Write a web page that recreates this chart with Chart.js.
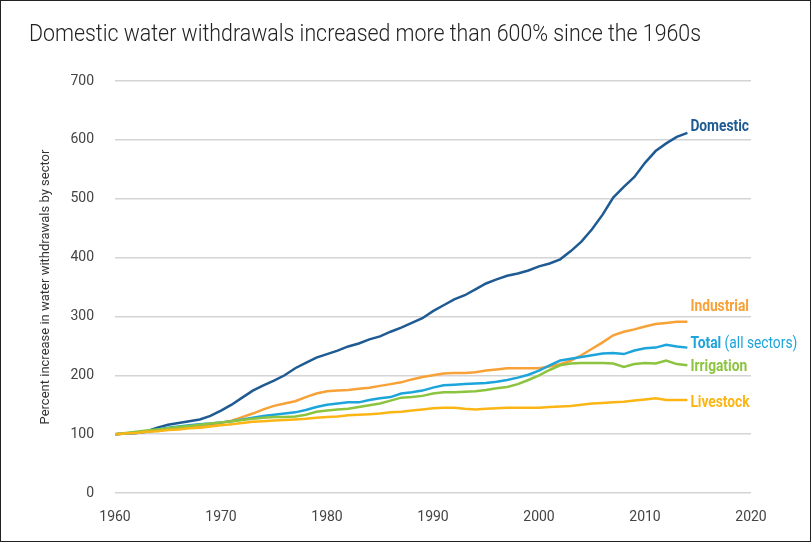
<!DOCTYPE html>
<html>
<head>
<meta charset="utf-8">
<script src="https://cdn.jsdelivr.net/npm/chart.js@4.4.1/dist/chart.umd.min.js"></script>
<style>
  html, body { margin: 0; padding: 0; background: #fff; }
  #frame { width: 811px; height: 542px; box-sizing: border-box; border: 1px solid #222; position: relative; }
  #chart { position: absolute; left: 0; top: 0; }
</style>
</head>
<body>
<div id="frame"><canvas id="chart" width="811" height="542"></canvas></div>
<script>
// Chart data (percent of 1960 level, 1960 = 100)
const years = [1960,1961,1962,1963,1964,1965,1966,1967,1968,1969,
  1970,1971,1972,1973,1974,1975,1976,1977,1978,1979,
  1980,1981,1982,1983,1984,1985,1986,1987,1988,1989,
  1990,1991,1992,1993,1994,1995,1996,1997,1998,1999,
  2000,2001,2002,2003,2004,2005,2006,2007,2008,2009,
  2010,2011,2012,2013,2014];

const domestic = [100,101,102,105,111,116,119,122,125,131,
  140,150,162,174,183,191,200,212,221,230,
  236,242,249,254,261,266,274,281,289,297,
  309,319,329,336,346,356,363,369,373,378,
  385,390,397,411,427,448,473,502,520,537,
  561,581,594,605,612];

const industrial = [100,101,103,104,106,108,110,112,114,116,
  119,123,129,135,142,148,152,156,163,169,
  173,174,175,177,179,182,185,188,193,197,
  200,203,204,204,205,208,210,212,212,212,
  212,215,219,225,234,245,256,268,274,278,
  283,287,289,291,291];

const total = [100,101,102,104,108,111,113,115,117,118,
  120,122,125,128,131,133,135,137,141,146,
  150,152,154,154,158,161,163,169,171,174,
  179,183,184,185,186,187,189,192,196,201,
  208,217,225,228,231,234,237,238,236,242,
  246,247,252,249,247];

const irrigation = [100,102,104,106,108,110,112,114,116,118,
  120,122,124,126,128,129,129,130,133,138,
  140,142,143,146,149,152,157,162,163,165,
  169,171,171,172,173,175,178,180,185,192,
  200,209,217,220,221,221,221,220,214,219,
  221,220,225,219,217];

const livestock = [100,101,102,104,105,107,108,110,111,113,
  115,117,119,121,122,123,124,125,126,128,
  129,130,132,133,134,135,137,138,140,142,
  144,145,145,143,142,143,144,145,145,145,
  145,146,147,148,150,152,153,154,155,157,
  159,161,158,158,158];

const yTicks = [0, 100, 200, 300, 400, 500, 600, 700];
const xTicks = [1960, 1970, 1980, 1990, 2000, 2010, 2020];

const titleText = 'Domestic water withdrawals increased more than 600% since the 1960s';
const yTitle = 'Percent increase in water withdrawals by sector';

const FONT = "'Roboto', sans-serif";

function series(values) {
  return values.map((v, i) => ({ x: years[i], y: v }));
}

// line end labels: text parts, colour, vertical nudge
const endLabels = [
  { ds: 4, parts: [['bold', 'Domestic']], color: '#1f5b92', dy: -6 },
  { ds: 3, parts: [['bold', 'Industrial']], color: '#f7a136', dy: -15 },
  { ds: 2, parts: [['bold', 'Total'], ['normal', ' (all sectors)']], color: '#1da5db', dy: -4 },
  { ds: 1, parts: [['bold', 'Irrigation']], color: '#8cc43f', dy: 2 },
  { ds: 0, parts: [['bold', 'Livestock']], color: '#fbb616', dy: 3 }
];

const labelPlugin = {
  id: 'labels',
  afterDraw(chart) {
    const ctx = chart.ctx;
    const xs = chart.scales.x, ys = chart.scales.y;

    // title, squeezed to the width of the original condensed face
    ctx.save();
    ctx.font = "300 23px Roboto";
    ctx.fillStyle = '#222';
    ctx.textBaseline = 'alphabetic';
    const w = ctx.measureText(titleText).width;
    ctx.translate(28, 40);
    ctx.scale(672 / w, 1);
    ctx.fillText(titleText, 0, 0);
    ctx.restore();

    // labels at the end of each line (narrowed a bit like the original)
    endLabels.forEach((lab) => {
      const data = chart.data.datasets[lab.ds].data;
      const last = data[data.length - 1];
      const x0 = xs.getPixelForValue(last.x) + 3;
      const y = ys.getPixelForValue(last.y) + lab.dy;
      ctx.save();
      ctx.textBaseline = 'middle';
      ctx.fillStyle = lab.color;
      ctx.translate(x0, y);
      ctx.scale(0.86, 1);
      let x = 0;
      lab.parts.forEach(([weight, txt]) => {
        ctx.font = weight + ' 16px ' + FONT;
        ctx.fillText(txt, x, 0);
        x += ctx.measureText(txt).width;
      });
      ctx.restore();
    });
  }
};

const ctx = document.getElementById('chart').getContext('2d');
const myChart = new Chart(ctx, {
  type: 'line',
  data: {
    datasets: [
      { label: 'Livestock', data: series(livestock), borderColor: '#fbb616' },
      { label: 'Irrigation', data: series(irrigation), borderColor: '#8cc43f' },
      { label: 'Total', data: series(total), borderColor: '#1da5db' },
      { label: 'Industrial', data: series(industrial), borderColor: '#f7a136' },
      { label: 'Domestic', data: series(domestic), borderColor: '#1f5b92' }
    ]
  },
  options: {
    responsive: false,
    animation: false,
    devicePixelRatio: 1,
    elements: {
      line: { borderWidth: 2.5, tension: 0, fill: false },
      point: { radius: 0 }
    },
    layout: { padding: { top: 80, right: 61, left: 0, bottom: 0 } },
    plugins: {
      legend: { display: false },
      tooltip: { enabled: false },
      title: { display: false }
    },
    scales: {
      x: {
        type: 'linear',
        min: 1960,
        max: 2020,
        afterBuildTicks: (scale) => { scale.ticks = xTicks.map((v) => ({ value: v })); },
        afterFit: (scale) => { scale.height = 50; },
        grid: { display: false },
        border: { display: false },
        ticks: {
          padding: 8,
          color: '#444',
          font: { family: FONT, size: 14 },
          maxRotation: 0,
          callback: (v) => String(v)
        }
      },
      y: {
        min: 0,
        max: 700,
        afterBuildTicks: (scale) => { scale.ticks = yTicks.map((v) => ({ value: v })); },
        afterFit: (scale) => { scale.width = 114; },
        border: { display: false },
        grid: { color: '#d4d4d4', lineWidth: 1.5, drawTicks: false },
        ticks: {
          padding: 21,
          color: '#444',
          font: { family: FONT, size: 14 }
        },
        title: {
          display: true,
          text: yTitle,
          color: '#333',
          font: { family: FONT, size: 13 },
          padding: { top: 37, bottom: 0 }
        }
      }
    }
  },
  plugins: [labelPlugin]
});
</script>
</body>
</html>
